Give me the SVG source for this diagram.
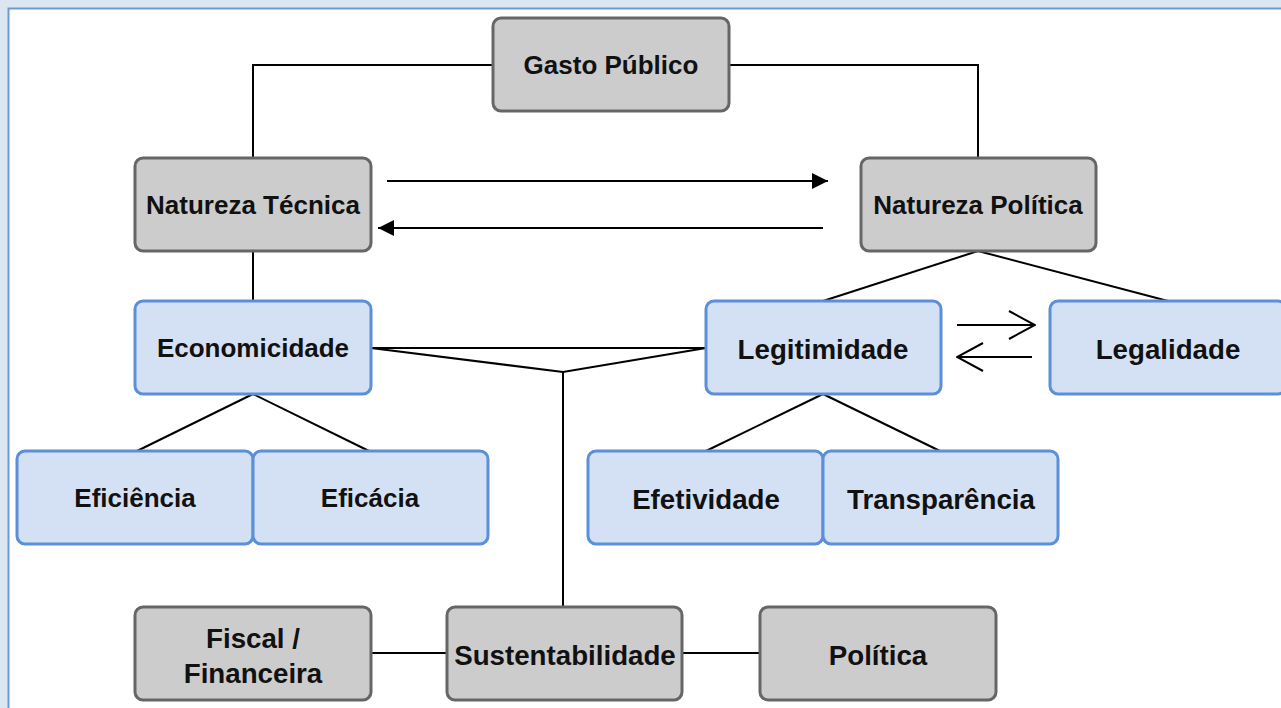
<svg xmlns="http://www.w3.org/2000/svg" width="1281" height="708" viewBox="0 0 1281 708">
<style>
.g rect{fill:#cccccc;stroke:#666666;stroke-width:3}
.b rect{fill:#d4e1f5;stroke:#5b8fd8;stroke-width:3}
text{font-family:"Liberation Sans",Arial,sans-serif;font-weight:bold;font-size:26px;fill:#111111;text-anchor:middle}
text.l{font-size:27.7px}
.c{fill:none;stroke:#000000;stroke-width:2}
</style>
<defs>
<marker id="fa" viewBox="0 0 16 16" refX="16" refY="8" markerWidth="16" markerHeight="16" markerUnits="userSpaceOnUse" orient="auto">
<path d="M0,0 L16,8 L0,16 Z" fill="#000"/>
</marker>
<marker id="oa" viewBox="0 0 28 32" refX="27" refY="16" markerWidth="28" markerHeight="32" markerUnits="userSpaceOnUse" orient="auto">
<path d="M1,2 L27,16 L1,30" fill="none" stroke="#000" stroke-width="2"/>
</marker>
</defs>
<rect x="0" y="0" width="1281" height="708" fill="#dce6f2"/>
<rect x="8.5" y="8.5" width="1290" height="720" fill="#ffffff" stroke="#6a9bd3" stroke-width="2"/>
<g id="connectors">
<path class="c" d="M493,65 H253 V157"/>
<path class="c" d="M729,65 H978 V157"/>
<path class="c" d="M387,181 H828" marker-end="url(#fa)"/>
<path class="c" d="M823,228 H378" marker-end="url(#fa)"/>
<path class="c" d="M253,251 V301"/>
<path class="c" d="M978,251 L823,301"/>
<path class="c" d="M978,251 L1168,301"/>
<path class="c" d="M253,394 L137,451"/>
<path class="c" d="M253,394 L369,451"/>
<path class="c" d="M823,394 L706,451"/>
<path class="c" d="M823,394 L940,451"/>
<path class="c" d="M371,348 H706"/>
<path class="c" d="M371,348 L563,372 L706,348"/>
<path class="c" d="M563,372 V607"/>
<path class="c" d="M957,325 H1035" marker-end="url(#oa)"/>
<path class="c" d="M1032,357 H957" marker-end="url(#oa)"/>
<path class="c" d="M371,653 H447"/>
<path class="c" d="M682,653 H760"/>
</g>
<g id="gasto" class="g"><rect x="493" y="18" width="236" height="93" rx="8"/><text x="611" y="74">Gasto Público</text></g>
<g id="natureza-tecnica" class="g"><rect x="135" y="158" width="236" height="93" rx="8"/><text x="253" y="214">Natureza Técnica</text></g>
<g id="natureza-politica" class="g"><rect x="861" y="158" width="235" height="93" rx="8"/><text x="978" y="214">Natureza Política</text></g>
<g id="economicidade" class="b"><rect x="135" y="301" width="236" height="93" rx="8"/><text x="253" y="357">Economicidade</text></g>
<g id="legitimidade" class="b"><rect x="706" y="301" width="235" height="93" rx="8"/><text class="l" x="823" y="359">Legitimidade</text></g>
<g id="legalidade" class="b"><rect x="1050" y="301" width="236" height="93" rx="8"/><text class="l" x="1168" y="359">Legalidade</text></g>
<g id="eficiencia" class="b"><rect x="17" y="451" width="236" height="93" rx="8"/><text x="135" y="507">Eficiência</text></g>
<g id="eficacia" class="b"><rect x="253" y="451" width="235" height="93" rx="8"/><text x="370" y="507">Eficácia</text></g>
<g id="efetividade" class="b"><rect x="588" y="451" width="235" height="93" rx="8"/><text class="l" x="706" y="509">Efetividade</text></g>
<g id="transparencia" class="b"><rect x="823" y="451" width="235" height="93" rx="8"/><text class="l" x="941" y="509">Transparência</text></g>
<g id="fiscal" class="g"><rect x="135" y="607" width="236" height="93" rx="8"/><text class="l" x="253" y="648">Fiscal /</text><text class="l" x="253" y="683">Financeira</text></g>
<g id="sustentabilidade" class="g"><rect x="447" y="607" width="235" height="93" rx="8"/><text class="l" x="565" y="665">Sustentabilidade</text></g>
<g id="politica" class="g"><rect x="760" y="607" width="236" height="93" rx="8"/><text class="l" x="878" y="665">Política</text></g>
</svg>
